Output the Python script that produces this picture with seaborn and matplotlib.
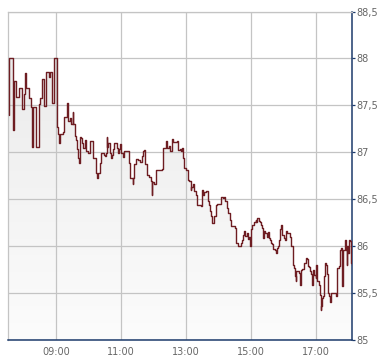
import numpy as np
import pandas as pd
import matplotlib
matplotlib.use("Agg")
import matplotlib.pyplot as plt
from matplotlib.colors import LinearSegmentedColormap
import seaborn as sns

# time of day in minutes since midnight
minutes = [453, 454, 460, 462, 467, 472, 477, 481, 483, 485, 491, 494, 496, 498, 503, 508, 510, 514, 517, 521,
           527, 529, 532, 533, 537, 542, 544, 545, 547, 553, 555, 560, 562, 563, 565, 567, 571, 572, 575, 577,
           578, 581, 582, 584, 587, 589, 590, 593, 595, 600, 603, 608, 609, 614, 615, 617, 621, 623, 629, 630,
           632, 634, 635, 637, 640, 641, 644, 646, 647, 652, 654, 656, 658, 660, 663, 666, 675, 677, 682, 683,
           685, 687, 692, 695, 698, 701, 703, 704, 709, 712, 715, 717, 718, 721, 724, 735, 737, 744, 746, 749,
           750, 754, 757, 763, 766, 769, 771, 773, 775, 777, 781, 783, 786, 789, 790, 793, 795, 798, 801, 808,
           809, 812, 814, 817, 820, 823, 824, 827, 829, 832, 835, 838, 845, 848, 850, 852, 855, 858, 861, 863,
           870, 872, 876, 882, 884, 886, 888, 890, 892, 894, 896, 898, 900, 901, 903, 906, 909, 910, 912, 915,
           917, 918, 921, 923, 925, 926, 929, 932, 934, 935, 937, 939, 941, 944, 946, 949, 950, 952, 954, 955,
           957, 958, 961, 963, 965, 967, 972, 975, 977, 978, 980, 982, 983, 984, 987, 989, 990, 992, 994, 998,
           1001, 1003, 1005, 1007, 1009, 1011, 1012, 1015, 1017, 1020, 1021, 1023, 1026, 1027, 1029, 1030, 1032,
           1034, 1035, 1037, 1038, 1041, 1043, 1045, 1046, 1048, 1057, 1060, 1062, 1064, 1067, 1069, 1070, 1073,
           1075, 1077, 1078, 1080, 1081, 1083, 1085, 1086]
prices = [87.40, 88.00, 87.24, 87.76, 87.59, 87.68, 87.46, 87.62, 87.84, 87.68, 87.58, 87.48, 87.06, 87.48, 87.06,
          87.51, 87.58, 87.78, 87.49, 87.86, 87.80, 87.86, 87.71, 87.52, 88.00, 87.27, 87.20, 87.10, 87.19, 87.22,
          87.38, 87.52, 87.45, 87.33, 87.36, 87.30, 87.43, 87.30, 87.17, 87.13, 87.03, 86.94, 86.89, 87.16, 87.15,
          87.10, 87.05, 87.13, 87.01, 86.99, 87.12, 87.01, 86.94, 86.78, 86.73, 86.78, 86.89, 86.99, 86.97, 86.96,
          86.99, 87.16, 87.06, 87.10, 86.99, 86.94, 86.97, 87.03, 87.10, 87.05, 86.99, 87.03, 87.09, 86.99, 86.95,
          87.01, 86.89, 86.73, 86.66, 86.73, 86.87, 86.93, 86.92, 86.90, 86.96, 87.01, 87.02, 86.87, 86.76, 86.74,
          86.69, 86.55, 86.68, 86.66, 86.81, 86.82, 87.05, 87.12, 87.05, 87.07, 87.01, 87.14, 87.11, 87.12, 87.02,
          87.04, 87.01, 87.05, 86.94, 86.83, 86.81, 86.71, 86.69, 86.60, 86.63, 86.66, 86.59, 86.55, 86.44, 86.43,
          86.60, 86.55, 86.58, 86.59, 86.48, 86.44, 86.37, 86.32, 86.25, 86.32, 86.44, 86.45, 86.52, 86.51, 86.52,
          86.48, 86.41, 86.35, 86.28, 86.21, 86.19, 86.03, 86.00, 86.03, 86.07, 86.12, 86.16, 86.11, 86.14, 86.08,
          86.10, 86.00, 86.02, 86.18, 86.23, 86.26, 86.28, 86.26, 86.30, 86.27, 86.26, 86.23, 86.19, 86.09, 86.16,
          86.14, 86.10, 86.15, 86.09, 86.07, 86.03, 86.02, 85.97, 85.96, 85.93, 85.98, 86.00, 86.07, 86.18, 86.23,
          86.21, 86.12, 86.09, 86.07, 86.16, 86.14, 86.10, 86.00, 85.96, 85.80, 85.77, 85.68, 85.63, 85.73, 85.74,
          85.71, 85.59, 85.75, 85.76, 85.82, 85.87, 85.86, 85.79, 85.78, 85.73, 85.70, 85.59, 85.75, 85.69, 85.66,
          85.80, 85.63, 85.59, 85.48, 85.32, 85.36, 85.45, 85.47, 85.68, 85.82, 85.80, 85.70, 85.50, 85.47, 85.41,
          85.50, 85.47, 85.77, 85.79, 85.96, 85.98, 85.58, 85.96, 86.07, 85.96, 85.80, 86.00, 85.93, 86.07, 86.05,
          85.82, 85.80]

x_tick_minutes = [540, 660, 780, 900, 1020]
x_tick_labels = ["09:00", "11:00", "13:00", "15:00", "17:00"]
y_ticks = [85, 85.5, 86, 86.5, 87, 87.5, 88, 88.5]
y_tick_labels = ["85", "85,5", "86", "86,5", "87", "87,5", "88", "88,5"]

df = pd.DataFrame({"t": minutes, "price": prices})

sns.set_style("white")
plt.rcParams["font.family"] = ["DejaVu Sans"]

fig = plt.figure(figsize=(3.90, 3.64), dpi=100)
ax = fig.add_axes([8 / 390, 1 - 340 / 364, 344 / 390, (340 - 11.5) / 364])

XMIN, XMAX = 451.4, 1086.8
YMIN, YMAX = 85, 88.5

# gradient fill under the step line
poly = ax.fill_between(df["t"], df["price"], YMIN, step="post", color="none", lw=0)
cmap = LinearSegmentedColormap.from_list("g", ["#fcfcfc", "#ebebeb"])
grad = np.linspace(0, 1, 256).reshape(-1, 1)
im = ax.imshow(grad, extent=[XMIN, XMAX, YMIN, 88.05], aspect="auto", cmap=cmap,
               origin="lower", zorder=0.2, interpolation="bilinear")
im.set_clip_path(poly.get_paths()[0], transform=ax.transData)

sns.lineplot(data=df, x="t", y="price", ax=ax, color="#6e1d22", lw=1.0,
             drawstyle="steps-post", estimator=None, sort=False, zorder=3)

ax.set_xlim(XMIN, XMAX)
ax.set_ylim(YMIN, YMAX)
ax.set_xlabel("")
ax.set_ylabel("")

ax.set_xticks(x_tick_minutes)
ax.set_xticklabels(x_tick_labels)
ax.set_yticks(y_ticks)
ax.set_yticklabels(y_tick_labels)

ax.set_axisbelow(True)
ax.grid(True, color="#c4c4c4", lw=0.9)

ax.yaxis.tick_right()
ax.tick_params(axis="y", direction="out", length=2.5, width=0.9, color="#1c3a6b",
               labelsize=7, labelcolor="#666666", pad=0.5)
ax.tick_params(axis="x", direction="out", length=3, width=0.8, color="#aaaaaa",
               labelsize=7, labelcolor="#666666", pad=2)

for side in ["left", "top"]:
    ax.spines[side].set_color("#c4c4c4")
    ax.spines[side].set_linewidth(0.9)
for side in ["right", "bottom"]:
    ax.spines[side].set_color("#1c3a6b")
    ax.spines[side].set_linewidth(1.1)

fig.savefig("out.png", dpi=100)
